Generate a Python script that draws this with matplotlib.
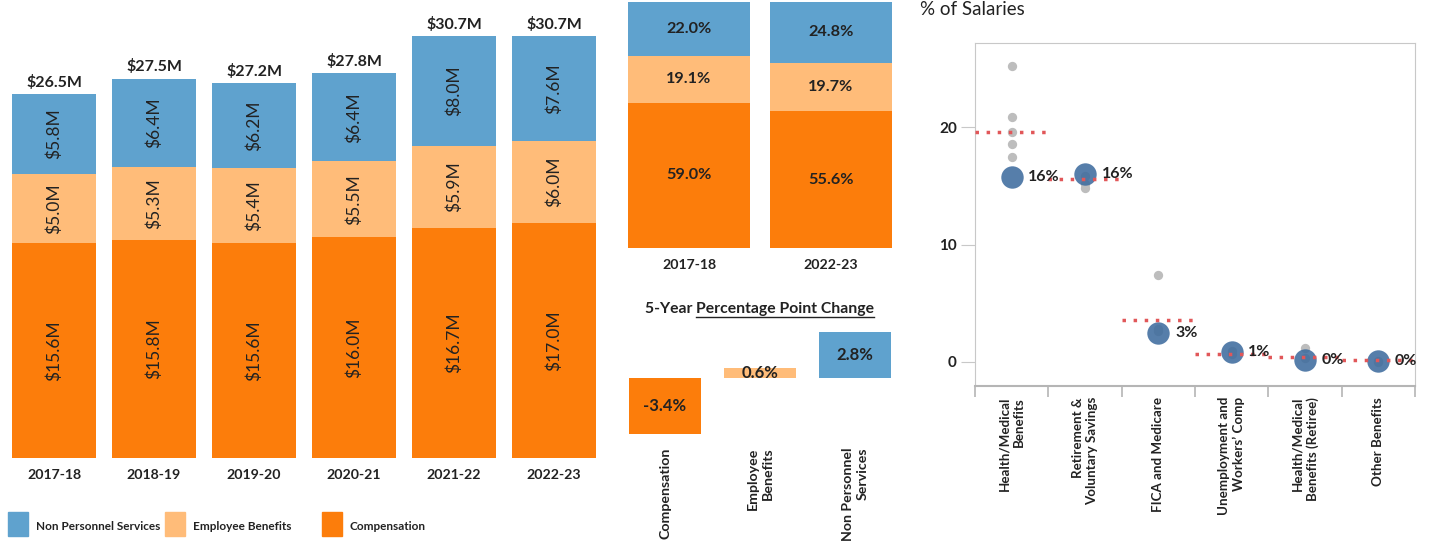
import matplotlib
matplotlib.use('Agg')
import matplotlib.pyplot as plt
from matplotlib.patches import Rectangle
from matplotlib.lines import Line2D
import numpy as np

plt.rcParams['font.family'] = ['Lato', 'DejaVu Sans']

# yearly spend, $M
years = ['2017-18', '2018-19', '2019-20', '2020-21', '2021-22', '2022-23']
compensation = [15.6, 15.8, 15.6, 16.0, 16.7, 17.0]
employee_benefits = [5.0, 5.3, 5.4, 5.5, 5.9, 6.0]
non_personnel = [5.8, 6.4, 6.2, 6.4, 8.0, 7.6]
totals = [26.5, 27.5, 27.2, 27.8, 30.7, 30.7]

# share of total, first vs last year (%)
share_years = ['2017-18', '2022-23']
share_comp = [59.0, 55.6]
share_eb = [19.1, 19.7]
share_nps = [22.0, 24.8]

# 5-year percentage point change
change_cats = ['Compensation', 'Employee\nBenefits', 'Non Personnel\nServices']
change_vals = [-3.4, 0.6, 2.8]

# benefits as % of salaries
benefit_cats = ['Health/Medical\nBenefits', 'Retirement &\nVoluntary Savings', 'FICA and Medicare',
                'Unemployment and\nWorkers\u2019 Comp', 'Health/Medical\nBenefits (Retiree)', 'Other Benefits']
own_pct = [15.8, 16.0, 2.5, 0.85, 0.2, 0.05]
own_labels = ['16%', '16%', '3%', '1%', '0%', '0%']
peer_pct = [[25.2, 20.9, 19.6, 18.6, 17.5],
            [15.9, 15.2, 14.8],
            [7.4, 2.8, 2.6],
            [0.9, 0.7],
            [1.2, 0.3],
            [0.1, 0.0]]
peer_avg = [19.6, 15.6, 3.6, 0.68, 0.42, 0.14]

C_NPS = '#5fa2ce'
C_EB = '#ffbc79'
C_COMP = '#fc7d0b'
TXT = '#222222'

W, H = 1434, 541
fig = plt.figure(figsize=(W / 100, H / 100), dpi=100)


def add_ax(left, top, right, bottom):
    return fig.add_axes([left / W, 1 - bottom / H, (right - left) / W, (bottom - top) / H])


def clean(ax):
    for s in ax.spines.values():
        s.set_visible(False)
    ax.set_yticks([])
    ax.tick_params(axis='x', length=0)


# ---- left: stacked $ bars ----
ax = add_ax(4, 0, 604, 458)
x = np.arange(len(years))
comp = np.array(compensation)
eb = np.array(employee_benefits)
nps = np.array(non_personnel)
ax.bar(x, comp, 0.84, color=C_COMP)
ax.bar(x, eb, 0.84, bottom=comp, color=C_EB)
ax.bar(x, nps, 0.84, bottom=comp + eb, color=C_NPS)
for i in range(len(years)):
    for bot, v in [(0, comp[i]), (comp[i], eb[i]), (comp[i] + eb[i], nps[i])]:
        ax.text(i, bot + v / 2, f'${v:.1f}M', rotation=90, ha='center', va='center',
                fontsize=12.5, color=TXT)
    ax.annotate(f'${totals[i]:.1f}M', (i, comp[i] + eb[i] + nps[i]), xytext=(0, 3),
                textcoords='offset points', ha='center', va='bottom', fontsize=11.5,
                fontweight='bold', color=TXT)
ax.set_xlim(-0.5, 5.5)
ax.set_ylim(0, 33.2)
ax.set_xticks(x, years, fontsize=10.2, fontweight='bold', color=TXT)
clean(ax)
ax.tick_params(axis='x', pad=8)

# legend
for lx, label, col in [(8, 'Non Personnel Services', C_NPS), (165, 'Employee Benefits', C_EB),
                       (322, 'Compensation', C_COMP)]:
    fig.add_artist(Rectangle((lx / W, 1 - 536 / H), 20 / W, 24 / H, color=col,
                             transform=fig.transFigure))
    fig.text((lx + 28) / W, 1 - 526 / H, label, ha='left', va='center', fontsize=8.5,
             fontweight='bold', color=TXT)

# ---- middle top: 100% bars ----
ax2 = add_ax(618, 2, 902, 248)
x2 = np.arange(len(share_years))
sc = np.array(share_comp)
se = np.array(share_eb)
sn = np.array(share_nps)
ax2.bar(x2, sc, 0.86, color=C_COMP)
ax2.bar(x2, se, 0.86, bottom=sc, color=C_EB)
ax2.bar(x2, sn, 0.86, bottom=sc + se, color=C_NPS)
for i in range(len(share_years)):
    for bot, v in [(0, sc[i]), (sc[i], se[i]), (sc[i] + se[i], sn[i])]:
        ax2.text(i, bot + v / 2, f'{v:.1f}%', ha='center', va='center', fontsize=11.7,
                 fontweight='bold', color=TXT)
ax2.set_xlim(-0.5, 1.5)
ax2.set_ylim(0, 100)
ax2.set_xticks(x2, share_years, fontsize=10.2, fontweight='bold', color=TXT)
clean(ax2)
ax2.tick_params(axis='x', pad=8)

# ---- middle bottom: change bars ----
ax3 = add_ax(617.5, 325, 902.5, 440)
x3 = np.arange(len(change_cats))
ax3.bar(x3, change_vals, 0.76, color=[C_COMP, C_EB, C_NPS])
for i, v in enumerate(change_vals):
    ax3.text(i, v / 2, f'{v:.1f}%', ha='center', va='center', fontsize=12,
             fontweight='bold', color=TXT)
ax3.set_xlim(-0.5, 2.5)
ax3.set_ylim(-3.76, 3.21)
ax3.set_xticks(x3, change_cats, fontsize=10.2, fontweight='bold', color=TXT, rotation=90,
               multialignment='right', linespacing=1.3)
clean(ax3)
ax3.tick_params(axis='x', pad=5.5)

t1 = fig.text(645 / W, 1 - 309 / H, '5-Year ', ha='left', va='center', fontsize=11.3,
              fontweight='bold', color=TXT)
fig.canvas.draw()
r = fig.canvas.get_renderer()
bb1 = t1.get_window_extent(r)
t2 = fig.text(bb1.x1 / W, 1 - 309 / H, 'Percentage Point Change', ha='left', va='center',
              fontsize=11.3, fontweight='bold', color=TXT)
bb2 = t2.get_window_extent(r)
fig.add_artist(Line2D([bb2.x0 / W, bb2.x1 / W], [(bb2.y0 - 1) / H] * 2,
                      transform=fig.transFigure, color=TXT, lw=1))

# ---- right: benefits dot plot ----
ax4 = add_ax(975, 43, 1415, 386)
for i, vals in enumerate(peer_pct):
    ax4.scatter([i] * len(vals), vals, s=45, color='#bdbdbd', zorder=2, linewidths=0)
ax4.scatter(range(len(own_pct)), own_pct, s=260, color='#3f6c9e', alpha=0.88, zorder=3,
            linewidths=0)
for i, v in enumerate(peer_avg):
    ax4.plot([i - 0.5, i + 0.5], [v, v], color='#e15759', lw=2.5, linestyle=(0, (1, 2.2)),
             zorder=4, dash_capstyle='butt')
for i, (v, lab) in enumerate(zip(own_pct, own_labels)):
    ax4.annotate(lab, (i, v), xytext=(12, 0), textcoords='offset points', ha='left',
                 va='center', fontsize=11.5, fontweight='bold', color=TXT, zorder=5,
                 annotation_clip=False)
ax4.set_xlim(-0.5, 5.5)
ax4.set_ylim(-2.05, 27.2)
ax4.set_yticks([0, 10, 20])
ax4.set_yticklabels(['0', '10', '20'], fontsize=11, fontweight='bold', color=TXT)
ax4.set_xticks(range(len(benefit_cats)))
ax4.set_xticklabels(benefit_cats, rotation=90, fontsize=9.6, fontweight='bold', color=TXT,
                    multialignment='right', linespacing=1.25)
ax4.set_xticks(np.arange(-0.5, 6.0, 1.0), minor=True)
ax4.tick_params(axis='x', which='major', length=0, pad=8)
ax4.tick_params(axis='x', which='minor', length=8, color='#b5b5b5', width=1.2)
ax4.tick_params(axis='y', length=10, color='#c8c8c8', pad=3)
for s in ['left', 'top', 'right']:
    ax4.spines[s].set_color('#c8c8c8')
ax4.spines['bottom'].set_color('#b5b5b5')
ax4.spines['bottom'].set_linewidth(1.5)

fig.text(920 / W, 1 - 1 / H, '% of Salaries', ha='left', va='top', fontsize=13.5,
         color=TXT)

fig.savefig('out.png', dpi=100)
